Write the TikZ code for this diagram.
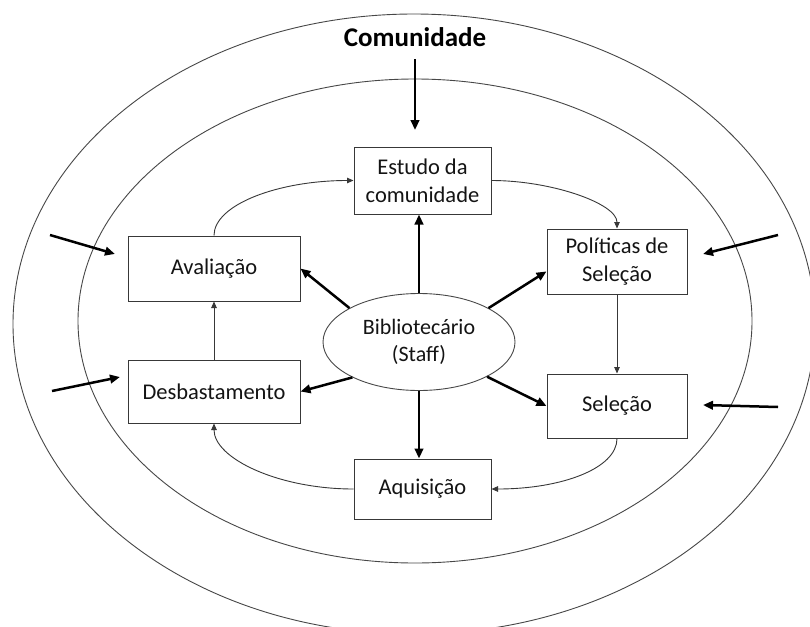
\documentclass[tikz,border=0pt]{standalone}
\usepackage{fontspec}
\setmainfont{Carlito}
\usetikzlibrary{arrows.meta,calc,shapes.geometric}
\begin{document}
\begin{tikzpicture}[x=1pt,y=-1pt,
  ring/.style={draw=black!72,line width=0.9pt},
  stepbox/.style={draw=black!78,line width=1pt,inner sep=0pt,align=center,
    font=\fontsize{22.5}{28}\selectfont,text=black!92},
  bigarrow/.style={line width=2.5pt,draw=black,-{Triangle[length=10pt,width=8.5pt]}},
  flow/.style={draw=black!78,line width=0.9pt,-{Triangle[length=6.5pt,width=5.5pt]}},
]
\useasboundingbox (0,0) rectangle (810,626);
\clip (0,0) rectangle (810,626);
\fill[white] (0,0) rectangle (810,626);

% rings
\draw[ring] (414,324) ellipse [x radius=401,y radius=310];
\draw[ring] (415,321) ellipse [x radius=337,y radius=242];

% title
\node[anchor=base,inner sep=0pt,font=\bfseries\fontsize{27}{32}\selectfont] (com) at (415,47) {Comunidade};

% boxes
\node[stepbox,minimum width=137pt,minimum height=67pt] (estudo) at (422.5,180.5) {Estudo da\\comunidade};
\node[stepbox,minimum width=172pt,minimum height=65pt] (aval) at (214,268.5) {Avaliação};
\node[stepbox,minimum width=172pt,minimum height=63pt] (desb) at (214,391.5) {Desbastamento};
\node[stepbox,minimum width=140pt,minimum height=65pt] (pol) at (617,261.5) {Políticas de\\Seleção};
\node[stepbox,minimum width=140pt,minimum height=64pt] (sel) at (617,406) {Seleção};
\node[stepbox,minimum width=137pt,minimum height=60pt] (aq) at (422.5,489) {Aquisição};

% center
\node[ellipse,draw=black!72,line width=0.9pt,minimum width=192pt,minimum height=97pt,
  inner sep=0pt,align=center,font=\fontsize{22}{27}\selectfont,text=black!92] (bib) at (419,342) {Bibliotecário\\(Staff)};

% thick arrows from the librarian
\draw[bigarrow] (bib.north) -- (bib.north |- estudo.south);
\draw[bigarrow] (bib.south) -- (bib.south |- aq.north);
\draw[bigarrow] (bib.154) -- (aval.east);
\draw[bigarrow] (bib.208) -- (desb.east);
\draw[bigarrow] (bib.26) -- ($(pol.north west)!0.65!(pol.south west)$);
\draw[bigarrow] (bib.-27) -- (sel.west);

% cycle
\draw[flow] (aval.north) .. controls +(0,-31) and +(-75,0) .. (estudo.west);
\draw[flow] (estudo.east) .. controls +(60,0) and +(0,-25) .. (pol.north);
\draw[flow] (pol.south) -- (sel.north);
\draw[flow] (sel.south) .. controls +(0,30) and +(70,0) .. (aq.east);
\draw[flow] (aq.west) .. controls +(-75,0) and +(0,35) .. (desb.south);
\draw[flow] (desb.north) -- (aval.south);

% outside influences
\coordinate (t0) at (415,59);   \coordinate (t1) at (415,130);
\coordinate (lu0) at (50,235);  \coordinate (lu1) at (115,254);
\coordinate (ll0) at (52,391);  \coordinate (ll1) at (120,377);
\coordinate (ru0) at (778,235); \coordinate (ru1) at (703,254);
\coordinate (rl0) at (778,407); \coordinate (rl1) at (703,405);
\draw[bigarrow] (t0) -- (t1);
\draw[bigarrow] (lu0) -- (lu1);
\draw[bigarrow] (ll0) -- (ll1);
\draw[bigarrow] (ru0) -- (ru1);
\draw[bigarrow] (rl0) -- (rl1);
\end{tikzpicture}
\end{document}
